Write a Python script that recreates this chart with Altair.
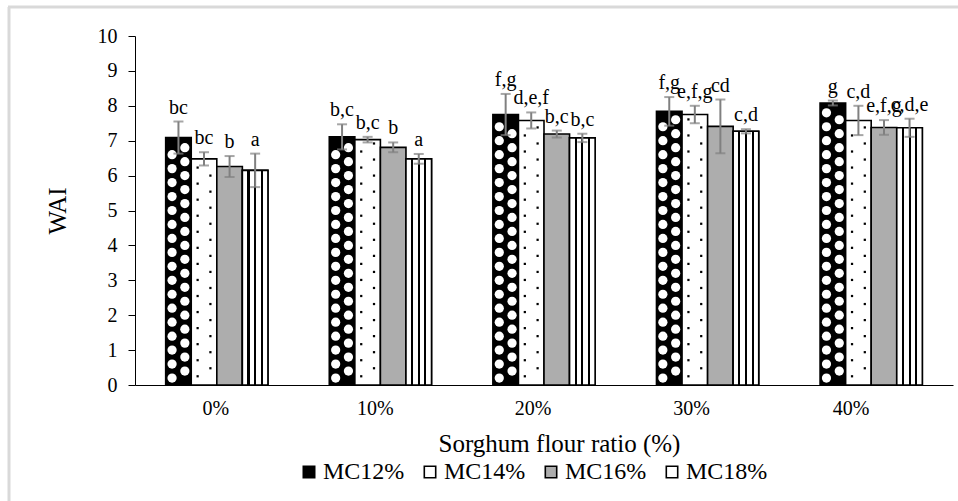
import altair as alt
import pandas as pd

categories = ["0%", "10%", "20%", "30%", "40%"]
series = ["MC12%", "MC14%", "MC16%", "MC18%"]
mc12 = [7.09, 7.11, 7.75, 7.84, 8.08]
mc14 = [6.48, 7.03, 7.58, 7.75, 7.58]
mc16 = [6.26, 6.81, 7.19, 7.41, 7.38]
mc18 = [6.15, 6.48, 7.08, 7.27, 7.37]
sd12 = [0.46, 0.36, 0.59, 0.41, 0.07]
sd14 = [0.19, 0.08, 0.23, 0.25, 0.42]
sd16 = [0.30, 0.14, 0.10, 0.77, 0.21]
sd18 = [0.48, 0.14, 0.12, 0.06, 0.26]
lab12 = ["bc", "b,c", "f,g", "f,g", "g"]
lab14 = ["bc", "b,c", "d,e,f", "e,f,g", "c,d"]
lab16 = ["b", "b", "b,c", "cd", "e,f,g"]
lab18 = ["a", "a", "b,c", "c,d", "c,d,e"]
y_ticks = [0, 1, 2, 3, 4, 5, 6, 7, 8, 9, 10]
# horizontal shift of each category label in the reference (px)
label_shift = [-1, -5, -11, -16, -20]

rows = []
for s, vals, sds, labs in zip(series, [mc12, mc14, mc16, mc18], [sd12, sd14, sd16, sd18],
                              [lab12, lab14, lab16, lab18]):
    for c, v, e, l in zip(categories, vals, sds, labs):
        rows.append({"ratio": c, "mc": s, "wai": v, "lo": v - e, "hi": v + e, "lab": l})
df = pd.DataFrame(rows)

SERIF = "Liberation Serif"
slots = ["s0", "s1", "s2", "s3", "s4", "s5", "s6", "s7"]

label_offset = {
    "condition": [{"test": f"datum.value == '{c}'", "value": o} for c, o in zip(categories, label_shift)],
    "value": 0,
}

xenc = alt.X("ratio:N", sort=categories,
             scale=alt.Scale(domain=categories, paddingInner=0.375, paddingOuter=0.1875),
             axis=alt.Axis(labelFont=SERIF, labelFontSize=20, labelColor="black", labelAngle=0,
                           labelPadding=13, labelOffset=label_offset, ticks=False, tickSize=0,
                           domainColor="black", domainWidth=1, title="Sorghum flour ratio (%)",
                           titleFont=SERIF, titleFontSize=25, titleFontWeight="normal",
                           titleColor="black", titleX=424, titleY=66, titleBaseline="alphabetic"))
xo = alt.XOffset("mc:N", sort=series, scale=alt.Scale(domain=series))
xslot = alt.XOffset("slot:N", scale=alt.Scale(domain=slots))
yscale = alt.Scale(domain=[0, 10], nice=False)
yaxis = alt.Axis(values=y_ticks, tickSize=7, tickColor="black", domainColor="black",
                 labelFont=SERIF, labelFontSize=20, labelColor="black", labelPadding=11,
                 labelOverlap=False, grid=False, title="WAI", titleFont=SERIF,
                 titleFontSize=25, titleFontWeight="normal", titleColor="black",
                 titleX=-78, titleY=174.5, titleBaseline="middle", titleAlign="center",
                 titleAngle=270)


def yq(field):
    return alt.Y(field, scale=yscale, axis=yaxis)


base = alt.Chart(df)

bars = base.mark_bar(stroke="black", strokeWidth=1.6).encode(
    x=xenc, xOffset=xo, y=yq("wai:Q"),
    color=alt.Color("mc:N", sort=series,
                    scale=alt.Scale(domain=series, range=["black", "white", "#adadad", "white"]),
                    legend=alt.Legend(orient="none", legendX=162, legendY=424, direction="horizontal",
                                      title=None, symbolType="square", symbolSize=130,
                                      symbolStrokeColor="black", symbolStrokeWidth=1.6,
                                      labelFont=SERIF, labelFontSize=24, labelColor="black",
                                      labelOffset=2, columnPadding=13)),
)

stops = []
for a, b in [(0.0, 0.2), (0.28, 0.46), (0.54, 0.72), (0.8, 1.0)]:
    stops.append(alt.GradientStop(offset=a, color="white"))
    stops.append(alt.GradientStop(offset=b, color="white"))
    if b < 1.0:
        stops.append(alt.GradientStop(offset=b, color="black"))
        stops.append(alt.GradientStop(offset=b + 0.08, color="black"))
stripes = base.transform_filter("datum.mc == 'MC18%'").mark_bar(
    fill=alt.Gradient(gradient="linear", x1=0, x2=1, y1=0, y2=0, stops=stops),
    stroke="black", strokeWidth=1.6,
).encode(x=xenc, xOffset=xo, y=yq("wai:Q"))


def pattern(series_name, slot, start, step, stop_margin, mark):
    return (base.transform_filter(f"datum.mc == '{series_name}'")
            .transform_calculate(seq=f"sequence({start}, datum.wai - {stop_margin}, {step})",
                                 slot=f"'{slot}'")
            .transform_flatten(["seq"])
            .mark_point(**mark)
            .encode(x=xenc, xOffset=xslot, y=yq("seq:Q")))


circ_mark = dict(shape="circle", filled=True, size=85, color="white", opacity=1, strokeWidth=0)
dot_mark = dict(shape="square", filled=True, size=5, color="black", opacity=1, strokeWidth=0)
c1 = pattern("MC12%", "s0", 0.2, 0.4, 0.17, circ_mark)
c2 = pattern("MC12%", "s1", 0.4, 0.4, 0.17, circ_mark)
d1 = pattern("MC14%", "s2", 0.25, 0.46, 0.08, dot_mark)
d2 = pattern("MC14%", "s3", 0.48, 0.46, 0.08, dot_mark)

err = base.mark_rule(color="#808080", strokeWidth=2).encode(
    x=xenc, xOffset=xo, y=yq("lo:Q"), y2="hi:Q")
cap_hi = base.mark_tick(color="#808080", thickness=2, size=10).encode(
    x=xenc, xOffset=xo, y=yq("hi:Q"))
cap_lo = base.mark_tick(color="#808080", thickness=2, size=10).encode(
    x=xenc, xOffset=xo, y=yq("lo:Q"))
labels = base.mark_text(font=SERIF, fontSize=20, color="black", baseline="alphabetic", dy=-8).encode(
    x=xenc, xOffset=xo, y=yq("hi:Q"), text="lab:N")

frame_data = alt.Data(values=[{"k": 1}])
frame_left = alt.Chart(frame_data).mark_rule(color="#d9d9d9", strokeWidth=3).encode(
    x=alt.value(-126), y=alt.value(-29), y2=alt.value(470))
frame_top = alt.Chart(frame_data).mark_rule(color="#d9d9d9", strokeWidth=3).encode(
    x=alt.value(-127), x2=alt.value(830), y=alt.value(-29))

chart = alt.layer(
    bars, stripes, c1, c2, d1, d2, err, cap_hi, cap_lo, labels, frame_left, frame_top
).resolve_scale(xOffset="independent").properties(
    width=818, height=349,
    padding={"left": 135, "top": 36, "right": 5, "bottom": 116},
    autosize=alt.AutoSizeParams(type="none"),
    background="white",
).configure(font=SERIF).configure_axis(labelFont=SERIF, titleFont=SERIF).configure_legend(
    labelFont=SERIF).configure_view(stroke=None)

chart.save("out.html", embed_options={"renderer": "svg", "actions": False})
